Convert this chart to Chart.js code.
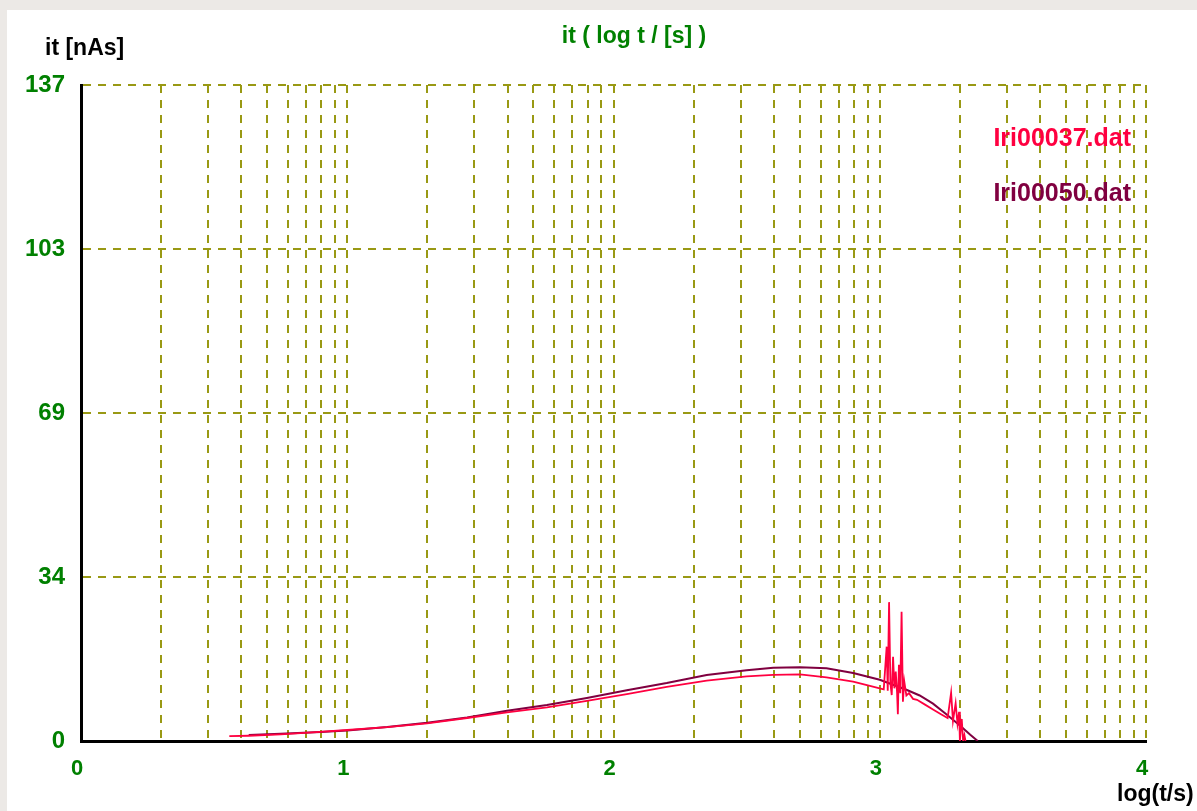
<!DOCTYPE html>
<html>
<head>
<meta charset="utf-8">
<title>it ( log t / [s] )</title>
<script src="https://cdn.jsdelivr.net/npm/chart.js@4/dist/chart.umd.min.js"></script>
<style>
  html, body { margin: 0; padding: 0; background: #ECE9E6; overflow: hidden; }
  #chartBox { position: absolute; left: 0; top: 0; width: 1197px; height: 811px; }
</style>
</head>
<body>
<div id="chartBox"><canvas id="chart1" width="1197" height="811"></canvas></div>
<script>
const chartTitle = 'it ( log t / [s] )';
const yAxisTitle = 'it [nAs]';
const xAxisTitle = 'log(t/s)';
const seriesNames = ['Iri00037.dat', 'Iri00050.dat'];
const seriesColors = ['#FF0040', '#800040'];

// Iri00037.dat (red) - log(t/s) and it [nAs]
const iri37X = [0.557, 0.63, 0.75, 0.87, 1.00, 1.15, 1.30, 1.45, 1.60, 1.75, 1.90, 2.05, 2.20, 2.35, 2.50, 2.60, 2.70, 2.80, 2.90, 3.00,
  3.015, 3.026, 3.030, 3.035, 3.040, 3.045, 3.050, 3.055, 3.060, 3.065, 3.068, 3.072, 3.077, 3.082, 3.087, 3.092, 3.100, 3.110, 3.125, 3.14,
  3.17, 3.20, 3.23, 3.255, 3.268, 3.275, 3.285, 3.292, 3.298, 3.301, 3.305, 3.308, 3.313, 3.318, 3.322];
const iri37Y = [1.0, 1.1, 1.4, 1.8, 2.3, 2.9, 3.7, 4.8, 6.0, 7.0, 8.4, 9.8, 11.3, 12.6, 13.5, 13.8, 13.9, 13.3, 12.4, 11.0,
  10.8, 19.7, 10.5, 29.0, 12.0, 9.6, 17.6, 11.0, 14.5, 10.2, 5.6, 15.9, 10.0, 27.0, 8.2, 12.5, 9.5, 10.0, 8.8, 8.6,
  7.6, 6.6, 5.6, 4.8, 10.1, 4.2, 7.9, 3.6, 6.1, 0, 3.2, 4.6, 0, 1.2, 0];

// Iri00050.dat (maroon)
const iri50X = [0.63, 0.75, 0.90, 1.00, 1.15, 1.30, 1.45, 1.60, 1.75, 1.90, 2.05, 2.20, 2.35, 2.50, 2.60, 2.70, 2.80, 2.90, 3.00,
  3.10, 3.15, 3.20, 3.25, 3.30, 3.34, 3.368];
const iri50Y = [1.25, 1.5, 1.9, 2.2, 2.9, 3.8, 4.9, 6.3, 7.5, 9.0, 10.6, 12.1, 13.8, 14.8, 15.3, 15.4, 15.2, 14.2, 12.8,
  10.7, 9.5, 7.8, 5.6, 3.3, 1.3, 0];

const xTickValues = [0, 1, 2, 3, 4];
const xTickLabels = ['0', '1', '2', '3', '4'];
const xMinorSteps = [2, 3, 4, 5, 6, 7, 8, 9];
const yTickValues = [0, 34.25, 68.5, 102.75, 137];
const yTickLabels = ['0', '34', '69', '103', '137'];

const fontFamily = '"Liberation Sans", Arial, sans-serif';
const gridColor = '#999914';
const tickColor = '#008000';

function toPoints(xs, ys) {
  let arrResult = [];
  for (let i = 0; i < xs.length; i++) {
    arrResult.push({ x: xs[i], y: ys[i] });
  }
  return arrResult;
}

// vertical grid: every log step in each decade
function logGridValues() {
  let values = [];
  for (let d = 0; d < xTickValues.length - 1; d++) {
    values.push(xTickValues[d]);
    for (const k of xMinorSteps) {
      values.push(xTickValues[d] + Math.log10(k));
    }
  }
  values.push(xTickValues[xTickValues.length - 1]);
  return values;
}

function hideZero(ctx) {
  return ctx.tick && ctx.tick.value === 0 ? 'rgba(0,0,0,0)' : gridColor;
}

const frameText = {
  id: 'frameText',
  beforeDraw(chart) {
    const ctx = chart.ctx;
    ctx.save();
    ctx.fillStyle = '#ECE9E6';
    ctx.fillRect(0, 0, chart.width, chart.height);
    ctx.fillStyle = '#FFFFFF';
    ctx.fillRect(7, 10, chart.width - 7, chart.height - 10);
    ctx.restore();
  },
  afterDraw(chart) {
    const ctx = chart.ctx;
    ctx.save();
    ctx.textBaseline = 'middle';
    ctx.font = 'bold 23px ' + fontFamily;
    ctx.fillStyle = '#000000';
    ctx.textAlign = 'left';
    ctx.fillText(yAxisTitle, 45, 49);
    ctx.fillText(xAxisTitle, 1117, 795);
    ctx.fillStyle = tickColor;
    ctx.textAlign = 'center';
    ctx.fillText(chartTitle, 634, 37);
    ctx.font = 'bold 25px ' + fontFamily;
    ctx.textAlign = 'right';
    const legendY = [139, 194];
    for (let i = 0; i < seriesNames.length; i++) {
      ctx.fillStyle = seriesColors[i];
      ctx.fillText(seriesNames[i], 1131, legendY[i]);
    }
    ctx.restore();
  }
};

function drawChart1(chartId) {
  const ctx = document.getElementById(chartId);
  return new Chart(ctx, {
    type: 'line',
    data: {
      datasets: [{
        label: seriesNames[0],
        data: toPoints(iri37X, iri37Y),
        borderColor: seriesColors[0],
        borderWidth: 1.8,
        pointRadius: 0,
        tension: 0,
        fill: false
      }, {
        label: seriesNames[1],
        data: toPoints(iri50X, iri50Y),
        borderColor: seriesColors[1],
        borderWidth: 2,
        pointRadius: 0,
        tension: 0,
        fill: false
      }]
    },
    options: {
      responsive: false,
      animation: false,
      layout: { padding: { top: 85, right: 51, left: 0, bottom: 0 } },
      plugins: {
        legend: { display: false },
        title: { display: false },
        tooltip: { enabled: false }
      },
      scales: {
        x: {
          type: 'linear',
          min: 0,
          max: 4,
          afterFit: (scale) => { scale.height = 70; },
          afterBuildTicks: (scale) => {
            scale.ticks = logGridValues().map(v => ({ value: v }));
          },
          grid: { color: hideZero, lineWidth: 2, drawTicks: false },
          border: { display: true, color: '#000000', width: 3, dash: [8, 7] },
          ticks: {
            autoSkip: false,
            maxRotation: 0,
            padding: 15,
            labelOffset: -4,
            color: tickColor,
            font: { family: fontFamily, size: 22, weight: 'bold' },
            callback: (value) => {
              const idx = xTickValues.indexOf(value);
              return idx >= 0 ? xTickLabels[idx] : '';
            }
          }
        },
        y: {
          type: 'linear',
          min: 0,
          max: 137,
          afterFit: (scale) => { scale.width = 81; },
          afterBuildTicks: (scale) => {
            scale.ticks = yTickValues.map(v => ({ value: v }));
          },
          grid: { color: hideZero, lineWidth: 2, drawTicks: false },
          border: { display: true, color: '#000000', width: 3, dash: [8, 7] },
          ticks: {
            padding: 16,
            color: tickColor,
            font: { family: fontFamily, size: 24, weight: 'bold' },
            callback: (value, index) => yTickLabels[index]
          }
        }
      }
    },
    plugins: [frameText]
  });
}

drawChart1('chart1');
</script>
</body>
</html>
